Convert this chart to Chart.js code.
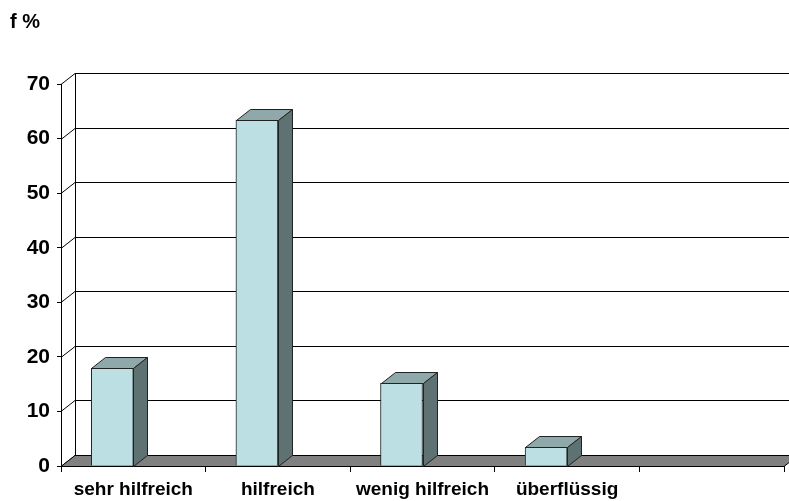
<!DOCTYPE html>
<html>
<head>
<meta charset="utf-8">
<script src="https://cdn.jsdelivr.net/npm/chart.js@4/dist/chart.umd.min.js"></script>
<style>
  html, body { margin: 0; padding: 0; background: #fff; }
  #wrap { width: 789px; height: 501px; }
</style>
</head>
<body>
<div id="wrap"><canvas id="chart" width="789" height="501"></canvas></div>
<script>
var categories = ['sehr hilfreich', 'hilfreich', 'wenig hilfreich', 'überflüssig', ''];
var percentValues = [17.9, 63.4, 15.2, 3.4, null];
var yTicks = [0, 10, 20, 30, 40, 50, 60, 70];

// depth of the fake 3d effect (Excel style)
var DX = 14, DY = -11;
var BAR_SHIFT = -21;

var FRONT = '#bbdfe2';
var TOP = '#8fa9aa';
var SIDE = '#5f7273';
var FLOOR = '#808080';

var threeD = {
    id: 'threeD',
    beforeDatasetsDraw: function (chart) {
        var ctx = chart.ctx, a = chart.chartArea, y = chart.scales.y;
        ctx.save();
        ctx.strokeStyle = '#000';
        ctx.lineWidth = 1;

        // back wall grid lines + the little diagonals off the front axis
        yTicks.forEach(function (v) {
            var py = Math.round(y.getPixelForValue(v)) + 0.5;
            ctx.beginPath();
            ctx.moveTo(a.left, py);
            ctx.lineTo(a.left + DX, py + DY);
            ctx.lineTo(chart.width, py + DY);
            ctx.stroke();
        });

        // left edge of back wall
        var topY = Math.round(y.getPixelForValue(70)) + 0.5 + DY;
        ctx.beginPath();
        ctx.moveTo(a.left + DX + 0.5, topY);
        ctx.lineTo(a.left + DX + 0.5, a.bottom + DY);
        ctx.stroke();

        // floor
        var b = Math.round(a.bottom) + 0.5;
        ctx.fillStyle = FLOOR;
        ctx.beginPath();
        ctx.moveTo(a.left, b);
        ctx.lineTo(a.left + DX, b + DY);
        ctx.lineTo(a.right + DX, b + DY);
        ctx.lineTo(a.right, b);
        ctx.closePath();
        ctx.fill();
        ctx.stroke();
        ctx.restore();

        ctx.save();
        ctx.translate(BAR_SHIFT, 0);
    },
    afterDatasetsDraw: function (chart) {
        var ctx = chart.ctx;
        ctx.strokeStyle = '#222';
        ctx.lineWidth = 1;
        chart.getDatasetMeta(0).data.forEach(function (bar, i) {
            if (percentValues[i] == null) return;
            var p = bar.getProps(['x', 'y', 'base', 'width'], true);
            var l = Math.round(p.x - p.width / 2) + 0.5;
            var r = Math.round(p.x + p.width / 2) + 0.5;
            var t = Math.round(p.y) + 0.5;
            var bt = Math.round(p.base) + 0.5;

            // top face
            ctx.fillStyle = TOP;
            ctx.beginPath();
            ctx.moveTo(l, t);
            ctx.lineTo(l + DX, t + DY);
            ctx.lineTo(r + DX, t + DY);
            ctx.lineTo(r, t);
            ctx.closePath();
            ctx.fill();
            ctx.stroke();

            // side face
            ctx.fillStyle = SIDE;
            ctx.beginPath();
            ctx.moveTo(r, t);
            ctx.lineTo(r + DX, t + DY);
            ctx.lineTo(r + DX, bt + DY);
            ctx.lineTo(r, bt);
            ctx.closePath();
            ctx.fill();
            ctx.stroke();
        });
        ctx.restore();
    }
};

new Chart(document.getElementById('chart'), {
    type: 'bar',
    data: {
        labels: categories,
        datasets: [{
            data: percentValues,
            backgroundColor: FRONT,
            borderColor: '#222',
            borderWidth: 1,
            barThickness: 42,
            clip: false
        }]
    },
    options: {
        responsive: false,
        animation: false,
        layout: { padding: { left: 10, right: 5, top: 0, bottom: 0 } },
        plugins: {
            legend: { display: false },
            tooltip: { enabled: false },
            title: {
                display: true,
                text: 'f %',
                align: 'start',
                color: '#000',
                font: { family: 'Arial, "Liberation Sans", sans-serif', size: 20, weight: 'bold', lineHeight: 1.2 },
                padding: { top: 10, bottom: 50 }
            }
        },
        scales: {
            x: {
                grid: { display: true, drawOnChartArea: false, tickLength: 6, color: '#000', offset: true },
                border: { display: true, color: '#000' },
                ticks: {
                    color: '#000',
                    padding: 6,
                    maxRotation: 0,
                    autoSkip: false,
                    font: { family: 'Arial, "Liberation Sans", sans-serif', size: 19, weight: 'bold' }
                },
                afterFit: function (s) { s.height = 35; }
            },
            y: {
                min: 0,
                max: 70,
                grid: { display: true, drawOnChartArea: false, tickLength: 4, color: '#000' },
                border: { display: true, color: '#000' },
                ticks: {
                    stepSize: 10,
                    color: '#000',
                    padding: 7,
                    font: { family: 'Arial, "Liberation Sans", sans-serif', size: 21, weight: 'bold' }
                },
                afterFit: function (s) { s.width = 51; }
            }
        }
    },
    plugins: [threeD]
});
</script>
</body>
</html>
